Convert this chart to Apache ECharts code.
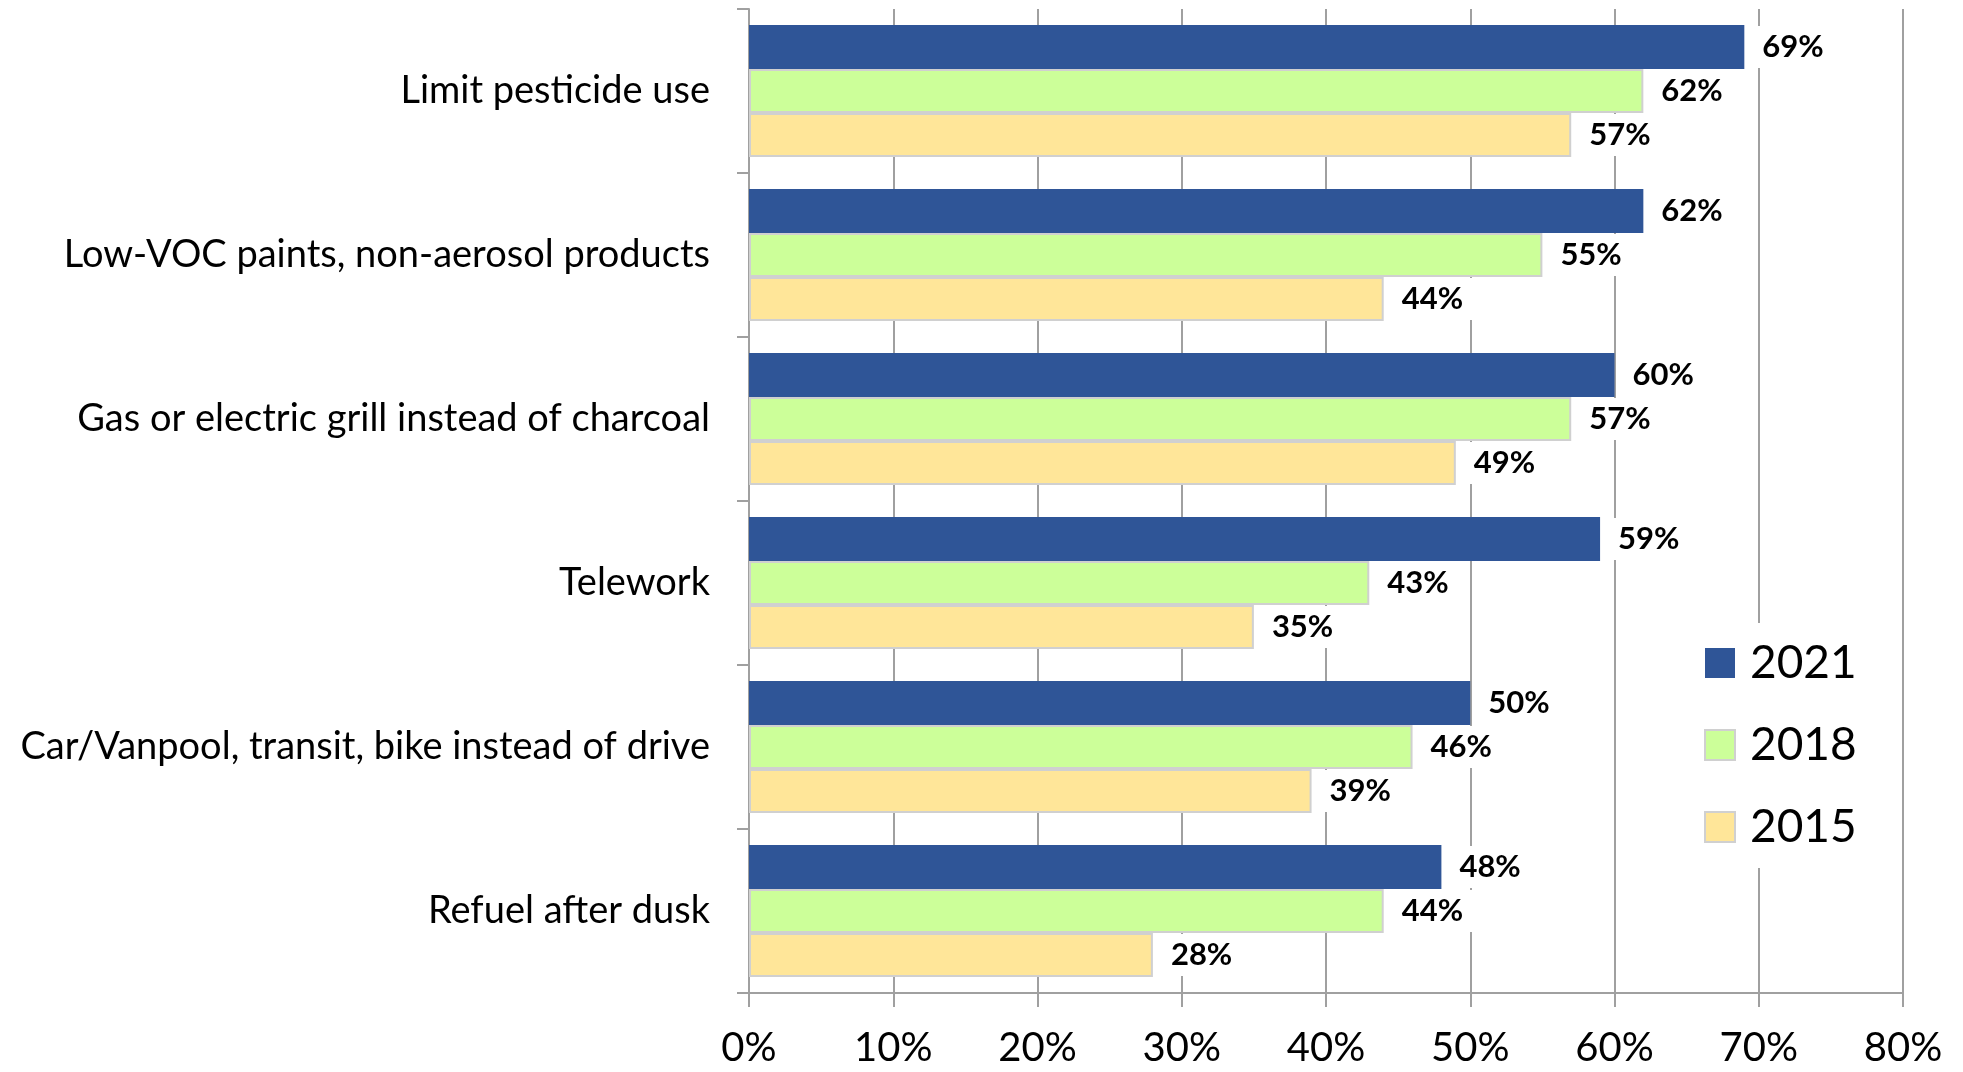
<!DOCTYPE html>
<html>
<head>
<meta charset="utf-8">
<script src="https://cdn.jsdelivr.net/npm/echarts@6/dist/echarts.min.js"></script>
<style>
  html, body { margin: 0; padding: 0; background: #fff; }
  #chart { width: 1963px; height: 1072px; }
</style>
</head>
<body>
<div id="chart"></div>
<script>
  // categories, top to bottom
  const categories = [
    'Limit pesticide use',
    'Low-VOC paints, non-aerosol products',
    'Gas or electric grill instead of charcoal',
    'Telework',
    'Car/Vanpool, transit, bike instead of drive',
    'Refuel after dusk'
  ];
  const seriesNames = ['2021', '2018', '2015'];
  const values2021 = [69, 62, 60, 59, 50, 48];
  const values2018 = [62, 55, 57, 43, 46, 44];
  const values2015 = [57, 44, 49, 35, 39, 28];
  const xTicks = [0, 10, 20, 30, 40, 50, 60, 70, 80];

  const colors = ['#2F5597', '#CCFF99', '#FFE699'];
  const borders = ['#2F5597', '#D0D0D0', '#D0D0D0'];
  const font = 'Lato';
  const gridColor = '#A0A0A0';

  const myChart = echarts.init(document.getElementById('chart'));

  function makeSeries(name, data, i) {
    return {
      name: name,
      type: 'bar',
      data: data,
      barGap: '0%',
      barCategoryGap: '19.5%',
      itemStyle: {
        color: colors[i],
        borderColor: borders[i],
        borderWidth: i === 0 ? 0 : 2
      },
      label: {
        show: true,
        position: 'right',
        distance: 6,
        formatter: p => p.value + '%',
        fontFamily: font,
        fontWeight: 'bold',
        fontSize: 31,
        color: '#000',
        lineHeight: 34,
        backgroundColor: '#fff',
        padding: [4, 10, 4, 12]
      }
    };
  }

  const option = {
    backgroundColor: '#fff',
    animation: false,
    grid: {
      left: 749,
      right: 60,
      top: 9,
      bottom: 79
    },
    legend: {
      orient: 'vertical',
      left: 1690,
      top: 623,
      backgroundColor: '#fff',
      padding: [14, 28, 15, 14],
      itemWidth: 30,
      itemHeight: 30,
      itemGap: 30,
      icon: 'rect',
      data: seriesNames,
      textStyle: {
        fontFamily: font,
        fontSize: 46,
        lineHeight: 52,
        color: '#000',
        padding: [0, 0, 0, 10]
      }
    },
    xAxis: {
      type: 'value',
      min: xTicks[0],
      max: xTicks[xTicks.length - 1],
      interval: 10,
      axisLine: { show: true, lineStyle: { color: gridColor, width: 2 } },
      axisTick: { show: true, length: 14, lineStyle: { color: gridColor, width: 2 } },
      splitLine: { show: true, lineStyle: { color: gridColor, width: 2 } },
      axisLabel: {
        formatter: v => v + '%',
        fontFamily: font,
        fontSize: 40,
        color: '#000',
        margin: 35
      }
    },
    yAxis: {
      type: 'category',
      inverse: true,
      data: categories,
      axisLine: { show: true, lineStyle: { color: gridColor, width: 2 } },
      axisTick: { show: true, length: 12, lineStyle: { color: gridColor, width: 2 } },
      axisLabel: {
        fontFamily: font,
        fontSize: 38,
        color: '#000',
        margin: 39
      }
    },
    series: [
      makeSeries(seriesNames[0], values2021, 0),
      makeSeries(seriesNames[1], values2018, 1),
      makeSeries(seriesNames[2], values2015, 2)
    ]
  };

  myChart.setOption(option);
</script>
</body>
</html>
